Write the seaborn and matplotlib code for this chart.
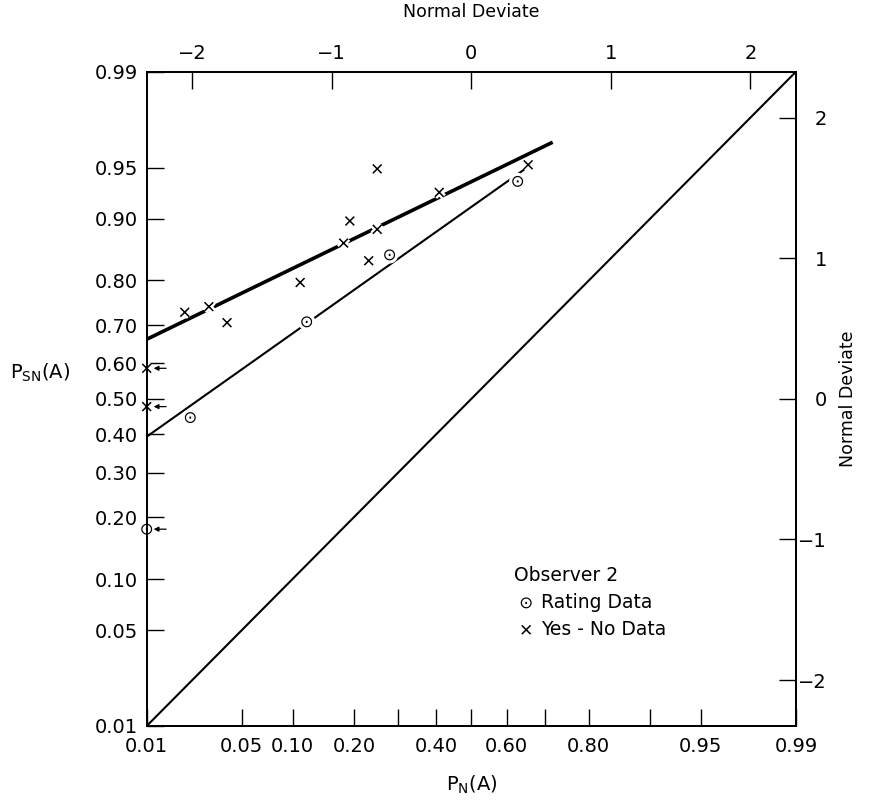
import numpy as np
import pandas as pd
import matplotlib
matplotlib.use("Agg")
import matplotlib.pyplot as plt
import matplotlib.patheffects as pe
import seaborn as sns
from statistics import NormalDist

# ---- data: detection proportions for Observer 2 ----
# points whose P_N(A) is below 0.01 sit on the left edge and carry an arrow
yes_no_pn = [0.01, 0.01, 0.020, 0.030, 0.040, 0.110, 0.180, 0.192, 0.231, 0.250, 0.250, 0.409, 0.658]
yes_no_psn = [0.586, 0.478, 0.731, 0.744, 0.706, 0.796, 0.866, 0.897, 0.837, 0.886, 0.949, 0.929, 0.952]
rating_pn = [0.01, 0.022, 0.119, 0.279, 0.630]
rating_psn = [0.177, 0.447, 0.708, 0.847, 0.939]
off_scale_yes_no_psn = [0.586, 0.478]
off_scale_rating_psn = [0.177]

# fitted ROC lines and the chance diagonal (end points, in probabilities)
yes_no_fit_pn = [0.01, 0.72]
yes_no_fit_psn = [0.664, 0.966]
rating_fit_pn = [0.01, 0.655]
rating_fit_psn = [0.394, 0.950]
chance_pn = [0.01, 0.99]
chance_psn = [0.01, 0.99]

# tick positions / labels
prob_ticks_x = [0.01, 0.05, 0.10, 0.20, 0.30, 0.40, 0.50, 0.60, 0.70, 0.80, 0.90, 0.95, 0.99]
prob_labels_x = ["0.01", "0.05", "0.10", "0.20", "", "0.40", "", "0.60", "", "0.80", "", "0.95", "0.99"]
prob_ticks_y = [0.01, 0.05, 0.10, 0.20, 0.30, 0.40, 0.50, 0.60, 0.70, 0.80, 0.90, 0.95, 0.99]
prob_labels_y = ["0.01", "0.05", "0.10", "0.20", "0.30", "0.40", "0.50", "0.60", "0.70", "0.80", "0.90", "0.95", "0.99"]
deviate_ticks = [-2, -1, 0, 1, 2]
deviate_labels = ["\u22122", "\u22121", "0", "1", "2"]

_nd = NormalDist()


def probit(p):
    return np.array([_nd.inv_cdf(v) for v in np.atleast_1d(p)])


sns.set_style("ticks")
plt.rcParams["font.family"] = ["DejaVu Sans"]
plt.rcParams["mathtext.fontset"] = "dejavusans"
for key in ("text.color", "axes.labelcolor", "xtick.color", "ytick.color", "axes.edgecolor"):
    plt.rcParams[key] = "black"

FS = 14
fig = plt.figure(figsize=(8.69, 8.06), dpi=100)
ax = fig.add_axes([146.7 / 869, 1 - 726 / 806, (796 - 146.7) / 869, (726 - 71.7) / 806])

zlo, zhi = probit(0.01)[0], probit(0.99)[0]

# chance diagonal and fitted lines
sns.lineplot(x=probit(chance_pn), y=probit(chance_psn), ax=ax, color="black",
             lw=1.5, estimator=None, sort=False, zorder=3)
sns.lineplot(x=probit(yes_no_fit_pn), y=probit(yes_no_fit_psn), ax=ax, color="black",
             lw=2.6, estimator=None, sort=False, zorder=3, solid_capstyle="butt")
sns.lineplot(x=probit(rating_fit_pn), y=probit(rating_fit_psn), ax=ax, color="black",
             lw=1.5, estimator=None, sort=False, zorder=3, solid_capstyle="butt")

halo = [pe.Stroke(linewidth=4.5, foreground="white"), pe.Normal()]

sns.scatterplot(x=probit(rating_pn), y=probit(rating_psn), ax=ax, marker=r"$\odot$",
                s=62, color="black", linewidth=0, zorder=6, clip_on=False, label="Rating Data")
rating_coll = ax.collections[-1]
rating_coll.set_path_effects(halo)

sns.scatterplot(x=probit(yes_no_pn), y=probit(yes_no_psn), ax=ax, marker="x",
                s=40, color="black", linewidth=1.1, zorder=6, clip_on=False, label="Yes - No Data")
yes_no_coll = ax.collections[-1]
yes_no_coll.set_path_effects(halo)

# arrows marking points that lie off the scale
for p in off_scale_yes_no_psn + off_scale_rating_psn:
    ax.annotate("", xy=(zlo, probit(p)[0]), xytext=(14, 0), textcoords="offset points",
                arrowprops=dict(arrowstyle="-|>", color="black", lw=0.9,
                                mutation_scale=7, shrinkA=0, shrinkB=5),
                annotation_clip=False, zorder=6)

ax.set_xlim(zlo, zhi)
ax.set_ylim(zlo, zhi)
ax.set_xticks(probit(prob_ticks_x), prob_labels_x)
ax.set_yticks(probit(prob_ticks_y), prob_labels_y)
ax.tick_params(axis="both", direction="in", length=12, width=1.0, labelsize=FS)
ax.tick_params(axis="x", pad=8.0)
ax.tick_params(axis="y", pad=6.0)

ax_top = ax.twiny()
ax_top.set_xlim(zlo, zhi)
ax_top.set_xticks(deviate_ticks, deviate_labels)
ax_top.tick_params(axis="x", direction="in", length=12, width=1.0, labelsize=FS, pad=6.0)

ax_right = ax.twinx()
ax_right.set_ylim(zlo, zhi)
ax_right.set_yticks(deviate_ticks, deviate_labels, ha="right")
ax_right.tick_params(axis="y", direction="in", length=12, width=1.0, labelsize=FS, pad=22.3)

for a in (ax, ax_top, ax_right):
    for s in a.spines.values():
        s.set_linewidth(1.2)
        s.set_color("black")
        s.set_visible(True)

ax.set_xlabel(r"P$_{\mathrm{N}}$(A)", fontsize=FS, va="center")
ax.xaxis.set_label_coords(0.5, (726 - 785) / 654)
ax.set_ylabel(r"P$_{\mathrm{SN}}$(A)", fontsize=FS, rotation=0, ha="center", va="center")
ax.yaxis.set_label_coords((40 - 146.7) / 649.3, (726 - 373) / 654)

ax_top.set_xlabel("Normal Deviate", fontsize=12.5, va="center")
ax_top.xaxis.set_label_coords(0.5, (726 - 12) / 654)
ax_right.set_ylabel("Normal Deviate", fontsize=12.5, rotation=90, va="center")
ax_right.yaxis.set_label_coords((848 - 146.7) / 649.3, 0.5)

leg = ax.legend(handles=[rating_coll, yes_no_coll], labels=["Rating Data", "Yes - No Data"],
                title="Observer 2", frameon=False, loc="upper left",
                bbox_to_anchor=((514 - 146.7) / 649.3, (726 - 566) / 654),
                borderpad=0, borderaxespad=0, handlelength=1.3, handletextpad=0.15,
                labelspacing=0.42, fontsize=13.5, title_fontsize=13.5, alignment="left")
# a little extra room between the title and the first entry
leg._legend_handle_box.sep = 7
leg._legend_title_box._text.set_va("baseline")

fig.savefig("out.png", dpi=100, facecolor="white")
